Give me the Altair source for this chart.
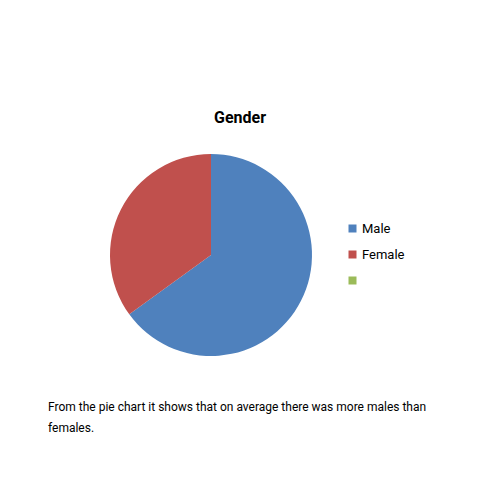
import altair as alt
import pandas as pd

categories = ["Male", "Female", " "]
values = [65, 35, 0]
colors = ["#4F81BD", "#C0504D", "#9BBB59"]
title_text = "Gender"
caption_lines = ["From the pie chart it shows that on average there was more males than", "females."]

FONT = "Roboto"

df = pd.DataFrame({"category": categories, "value": values, "order": list(range(len(categories)))})

base = alt.Chart(df)

pie = base.mark_arc(stroke=None).encode(
    theta=alt.Theta("value:Q", stack=True),
    order=alt.Order("order:Q"),
    color=alt.Color(
        "category:N",
        scale=alt.Scale(domain=categories, range=colors),
        sort=categories,
        legend=alt.Legend(
            title=None,
            orient="none",
            legendX=338,
            legendY=214,
            symbolType="square",
            symbolSize=64,
            symbolStrokeWidth=0,
            labelFont=FONT,
            labelFontSize=13,
            labelColor="#000000",
            rowPadding=12,
            labelOffset=3,
        ),
    ),
    x=alt.value(203),
    y=alt.value(247),
    radius=alt.value(101),
)

title = alt.Chart(pd.DataFrame({"t": [title_text]})).mark_text(
    font=FONT, fontSize=16, fontWeight="bold", color="#000000", align="center", baseline="alphabetic"
).encode(text="t:N", x=alt.value(232), y=alt.value(115))

caption = alt.Chart(pd.DataFrame({"t": [caption_lines]})).mark_text(
    font=FONT, fontSize=12, color="#000000", align="left", baseline="alphabetic", lineHeight=21
).encode(text="t", x=alt.value(40), y=alt.value(403))

chart = alt.layer(pie, title, caption).properties(
    width=464, height=464, autosize=alt.AutoSizeParams(type="none"), padding=0
).configure_view(stroke=None)

chart.save("out.html", embed_options={"renderer": "svg", "actions": False})
